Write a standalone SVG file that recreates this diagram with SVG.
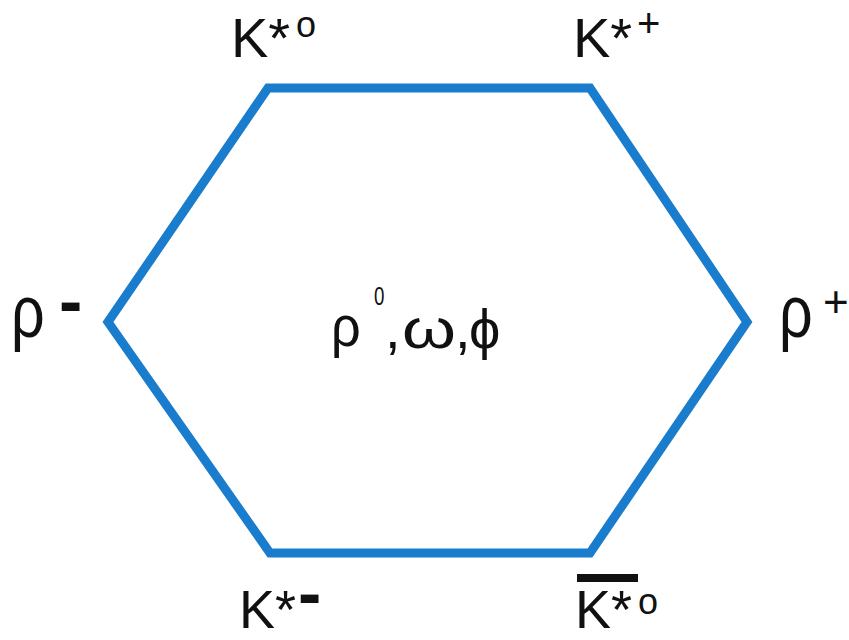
<svg xmlns="http://www.w3.org/2000/svg" width="849" height="640" viewBox="0 0 849 640">
<style>
  .hex { fill: none; stroke: #1a7ccc; stroke-width: 9; stroke-linejoin: miter; }
  text { font-family: "Liberation Sans", Arial, "DejaVu Sans", sans-serif; fill: #111; }
  .big { font-size: 56px; }
  .low { font-size: 54px; }
  .rho { font-size: 74px; }
  .sup { font-size: 36px; }
  .plus { font-size: 44px; }
  .bar { font-weight: bold; font-size: 70px; }
</style>
<rect width="849" height="640" fill="#ffffff"/>
<g id="connectors">
  <polygon class="hex" points="268,88 590,88 747,322 590,553 270,553 108,322"/>
</g>
<g id="node-kstar0">
  <text class="big" x="231" y="57">K*</text>
  <text class="sup" x="296" y="37">o</text>
</g>
<g id="node-kstarplus">
  <text class="big" x="573" y="57">K*</text>
  <text font-size="40" x="637" y="37">+</text>
</g>
<g id="node-rhominus">
  <text class="rho" transform="translate(11,337) scale(0.8,1)">ρ</text>
  <text class="bar" x="59" y="325">-</text>
</g>
<g id="node-rhoplus">
  <text class="rho" transform="translate(779,337) scale(0.8,1)">ρ</text>
  <text class="plus" x="823" y="317">+</text>
</g>
<g id="node-center">
  <text font-size="58" transform="translate(331,346) scale(0.9,1)">ρ</text>
  <text font-size="25" transform="translate(374,305) scale(0.75,1)">0</text>
  <text class="big" x="385" y="348">,</text>
  <text class="big" x="402" y="348" textLength="54" lengthAdjust="spacingAndGlyphs">ω</text>
  <text class="big" x="455" y="348">,</text>
  <text class="big" x="469" y="348">ϕ</text>
</g>
<g id="node-kstarminus">
  <text class="low" x="239" y="628">K*</text>
  <text class="bar" x="298" y="617">-</text>
</g>
<g id="node-kstar0bar">
  <line x1="577" y1="578" x2="638" y2="578" stroke="#111" stroke-width="8"/>
  <text class="low" x="575" y="628">K*</text>
  <text class="sup" x="638" y="614">o</text>
</g>
</svg>
